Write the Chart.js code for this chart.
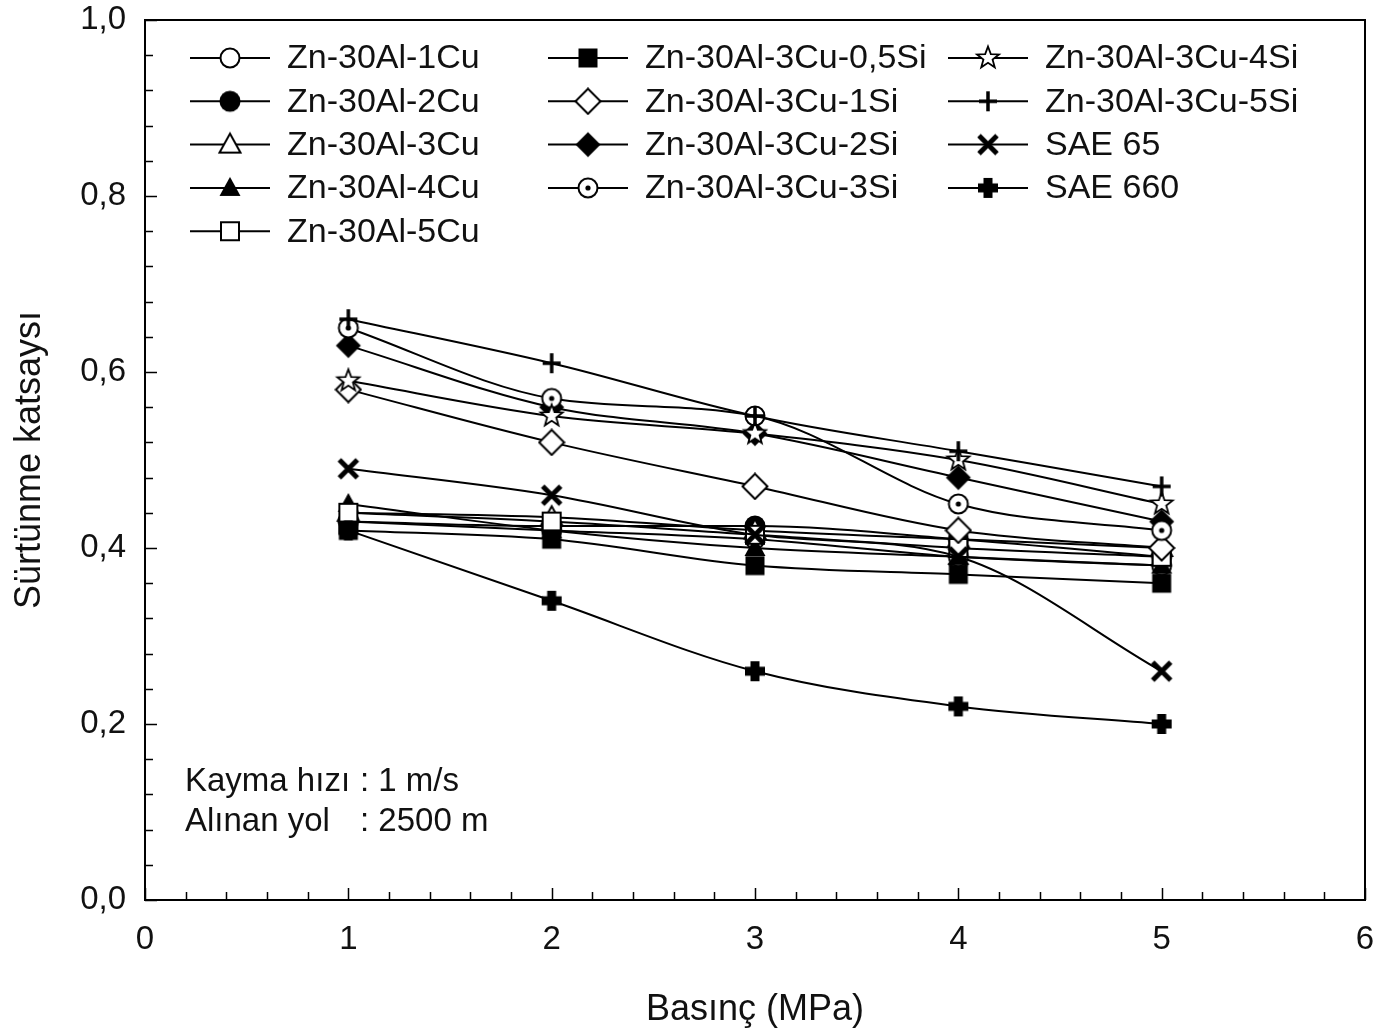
<!DOCTYPE html>
<html><head><meta charset="utf-8">
<script src="https://cdn.jsdelivr.net/npm/chart.js@4/dist/chart.umd.min.js"></script>
<style>html,body{margin:0;padding:0;background:#fff}canvas{display:block}</style>
</head><body>
<canvas id="c" width="1379" height="1032"></canvas>
<script>
// ---- data ----
const pressures = [1, 2, 3, 4, 5];
const seriesNames = ['Zn-30Al-1Cu','Zn-30Al-2Cu','Zn-30Al-3Cu','Zn-30Al-4Cu','Zn-30Al-5Cu',
  'Zn-30Al-3Cu-0,5Si','Zn-30Al-3Cu-1Si','Zn-30Al-3Cu-2Si','Zn-30Al-3Cu-3Si',
  'Zn-30Al-3Cu-4Si','Zn-30Al-3Cu-5Si','SAE 65','SAE 660'];
const zn1Cu   = [0.43, 0.42, 0.41, 0.39, 0.38];
const zn2Cu   = [0.43, 0.425, 0.425, 0.41, 0.39];
const zn3Cu   = [0.44, 0.435, 0.42, 0.41, 0.40];
const zn4Cu   = [0.45, 0.42, 0.40, 0.39, 0.38];
const zn5Cu   = [0.44, 0.43, 0.415, 0.40, 0.39];
const si05    = [0.42, 0.41, 0.38, 0.37, 0.36];
const si1     = [0.58, 0.52, 0.47, 0.42, 0.40];
const si2     = [0.63, 0.56, 0.53, 0.48, 0.43];
const si3     = [0.65, 0.57, 0.55, 0.45, 0.42];
const si4     = [0.59, 0.55, 0.53, 0.50, 0.45];
const si5     = [0.66, 0.61, 0.55, 0.51, 0.47];
const sae65   = [0.49, 0.46, 0.415, 0.39, 0.26];
const sae660  = [0.42, 0.34, 0.26, 0.22, 0.20];
const seriesValues = [zn1Cu, zn2Cu, zn3Cu, zn4Cu, zn5Cu, si05, si1, si2, si3, si4, si5, sae65, sae660];
const markerKinds = ['circleOpen','circleFill','triOpen','triFill','sqOpen','sqFill','diaOpen','diaFill',
  'circleDot','starOpen','plusThin','xThick','crossFill'];
const xTicks = [0, 1, 2, 3, 4, 5, 6];
const yTicks = [0, 0.2, 0.4, 0.6, 0.8, 1.0];
const xTitle = 'Basınç (MPa)';
const yTitle = 'Sürtünme katsaysı';
const noteLabels = ['Kayma hızı', 'Alınan yol'];
const noteValues = [': 1 m/s', ': 2500 m'];

const FONT = '"Liberation Sans", Arial, sans-serif';
const INK = '#111';

function makeMarker(kind) {
  const S = 28, c = document.createElement('canvas');
  c.width = S; c.height = S;
  const g = c.getContext('2d');
  g.translate(S/2, S/2);
  g.lineWidth = 2; g.strokeStyle = '#000'; g.fillStyle = '#000';
  const openFill = () => { g.fillStyle = '#fff'; g.fill(); g.stroke(); };
  switch (kind) {
    case 'circleOpen': g.beginPath(); g.arc(0,0,9.5,0,Math.PI*2); openFill(); break;
    case 'circleFill': g.beginPath(); g.arc(0,0,10.5,0,Math.PI*2); g.fill(); break;
    case 'circleDot': g.beginPath(); g.arc(0,0,9.5,0,Math.PI*2); openFill();
      g.fillStyle='#000'; g.beginPath(); g.arc(0,0,2.6,0,Math.PI*2); g.fill(); break;
    case 'triOpen': case 'triFill':
      g.beginPath(); g.moveTo(0,-11); g.lineTo(10.5,8); g.lineTo(-10.5,8); g.closePath();
      if (kind==='triOpen') openFill(); else g.fill(); break;
    case 'sqOpen': g.beginPath(); g.rect(-9,-9,18,18); openFill(); break;
    case 'sqFill': g.fillRect(-9.5,-9.5,19,19); break;
    case 'diaOpen': case 'diaFill':
      g.beginPath(); g.moveTo(0,-12.5); g.lineTo(12.5,0); g.lineTo(0,12.5); g.lineTo(-12.5,0); g.closePath();
      if (kind==='diaOpen') openFill(); else g.fill(); break;
    case 'starOpen': {
      g.beginPath();
      for (let k=0;k<10;k++){ const r = k%2?4.8:11.5; const a=-Math.PI/2+k*Math.PI/5;
        const px=r*Math.cos(a), py=r*Math.sin(a); k?g.lineTo(px,py):g.moveTo(px,py);} g.closePath();
      g.lineWidth=1.8; openFill(); break; }
    case 'plusThin': g.lineWidth=3.5; g.beginPath(); g.moveTo(-9,0); g.lineTo(9,0); g.moveTo(0,-10); g.lineTo(0,10); g.stroke(); break;
    case 'xThick': g.lineWidth=5; g.lineCap='butt'; g.beginPath(); g.moveTo(-9,-9); g.lineTo(9,9); g.moveTo(9,-9); g.lineTo(-9,9); g.stroke(); break;
    case 'crossFill': g.fillRect(-4.5,-10,9,20); g.fillRect(-10,-4.5,20,9); break;
  }
  return c;
}
const markers = markerKinds.map(makeMarker);
const N = seriesNames.length;

const datasets = seriesNames.map((name, i) => ({
  label: name,
  data: pressures.map((p, k) => ({x: p, y: seriesValues[i][k]})),
  borderColor: '#000', borderWidth: 2, cubicInterpolationMode: 'monotone',
  pointStyle: markers[i], pointRadius: 10, pointHoverRadius: 10,
  backgroundColor: '#000', order: N - i, clip: false
}));

const frame = {
  id: 'frame',
  beforeDatasetsDraw(chart) {
    const {ctx, chartArea: a, scales: {x, y}} = chart;
    ctx.save();
    ctx.strokeStyle = '#000'; ctx.lineWidth = 2;
    ctx.strokeRect(a.left, a.top, a.right - a.left, a.bottom - a.top);
    ctx.lineWidth = 1.5;
    ctx.beginPath();
    for (let v = 0; v <= 6.0001; v += 0.2) {
      const px = Math.round(x.getPixelForValue(v)) + 0.5;
      const major = Math.abs(v - Math.round(v)) < 1e-6;
      ctx.moveTo(px, a.bottom); ctx.lineTo(px, a.bottom - (major ? 12 : 8));
    }
    for (let v = 0; v <= 1.0001; v += 0.04) {
      const py = Math.round(y.getPixelForValue(v)) + 0.5;
      const major = Math.abs(v*5 - Math.round(v*5)) < 1e-6;
      ctx.moveTo(a.left, py); ctx.lineTo(a.left + (major ? 12 : 8), py);
    }
    ctx.stroke();
    ctx.restore();
  },
  afterDraw(chart) {
    const {ctx, chartArea: a} = chart;
    ctx.save();
    ctx.fillStyle = INK;
    // axis titles
    ctx.font = '36px ' + FONT; ctx.textAlign = 'center'; ctx.textBaseline = 'middle';
    ctx.fillText(xTitle, (a.left + a.right) / 2, 1010);
    ctx.save(); ctx.translate(30, 460); ctx.rotate(-Math.PI/2); ctx.fillText(yTitle, 0, 0); ctx.restore();
    // note
    ctx.font = '33px ' + FONT; ctx.textAlign = 'left';
    noteLabels.forEach((t, k) => {
      ctx.fillText(t, 185, 782 + k*40);
      ctx.fillText(noteValues[k], 360, 782 + k*40);
    });
    // legend
    ctx.font = '34px ' + FONT;
    const cols = [{x: 190, rows: [0,1,2,3,4]}, {x: 548, rows: [5,6,7,8]}, {x: 948, rows: [9,10,11,12]}];
    ctx.textBaseline = 'middle';
    cols.forEach(col => {
      col.rows.forEach((idx, r) => {
        const yy = 58 + r * 43.3;
        ctx.strokeStyle = '#000'; ctx.lineWidth = 2;
        ctx.beginPath(); ctx.moveTo(col.x, yy); ctx.lineTo(col.x + 80, yy); ctx.stroke();
        const m = markers[idx];
        ctx.drawImage(m, col.x + 40 - m.width/2, yy - m.height/2);
        ctx.fillStyle = INK;
        ctx.fillText(seriesNames[idx], col.x + 97, yy + 1);
      });
    });
    ctx.restore();
  }
};

new Chart(document.getElementById('c'), {
  type: 'line',
  data: {datasets},
  options: {
    responsive: false, animation: false, devicePixelRatio: 1,
    layout: {padding: {top: 20, right: 14, left: 0, bottom: 0}},
    plugins: {legend: {display: false}, tooltip: {enabled: false}},
    scales: {
      x: {type: 'linear', min: 0, max: 6,
        afterBuildTicks: s => { s.ticks = xTicks.map(v => ({value: v})); },
        ticks: {font: {size: 33, family: FONT}, color: INK, padding: 12, maxRotation: 0},
        grid: {display: false}, border: {display: false},
        afterFit: s => { s.height = 132; s.paddingLeft = 0; s.paddingRight = 0; }},
      y: {min: 0, max: 1,
        afterBuildTicks: s => { s.ticks = yTicks.map(v => ({value: v})); },
        ticks: {font: {size: 33, family: FONT}, color: INK, padding: 11,
          callback: v => v.toFixed(1).replace('.', ',')},
        grid: {display: false}, border: {display: false},
        afterFit: s => { s.width = 145; s.paddingTop = 0; s.paddingBottom = 0; }}
    }
  },
  plugins: [frame]
});
</script>
</body></html>
